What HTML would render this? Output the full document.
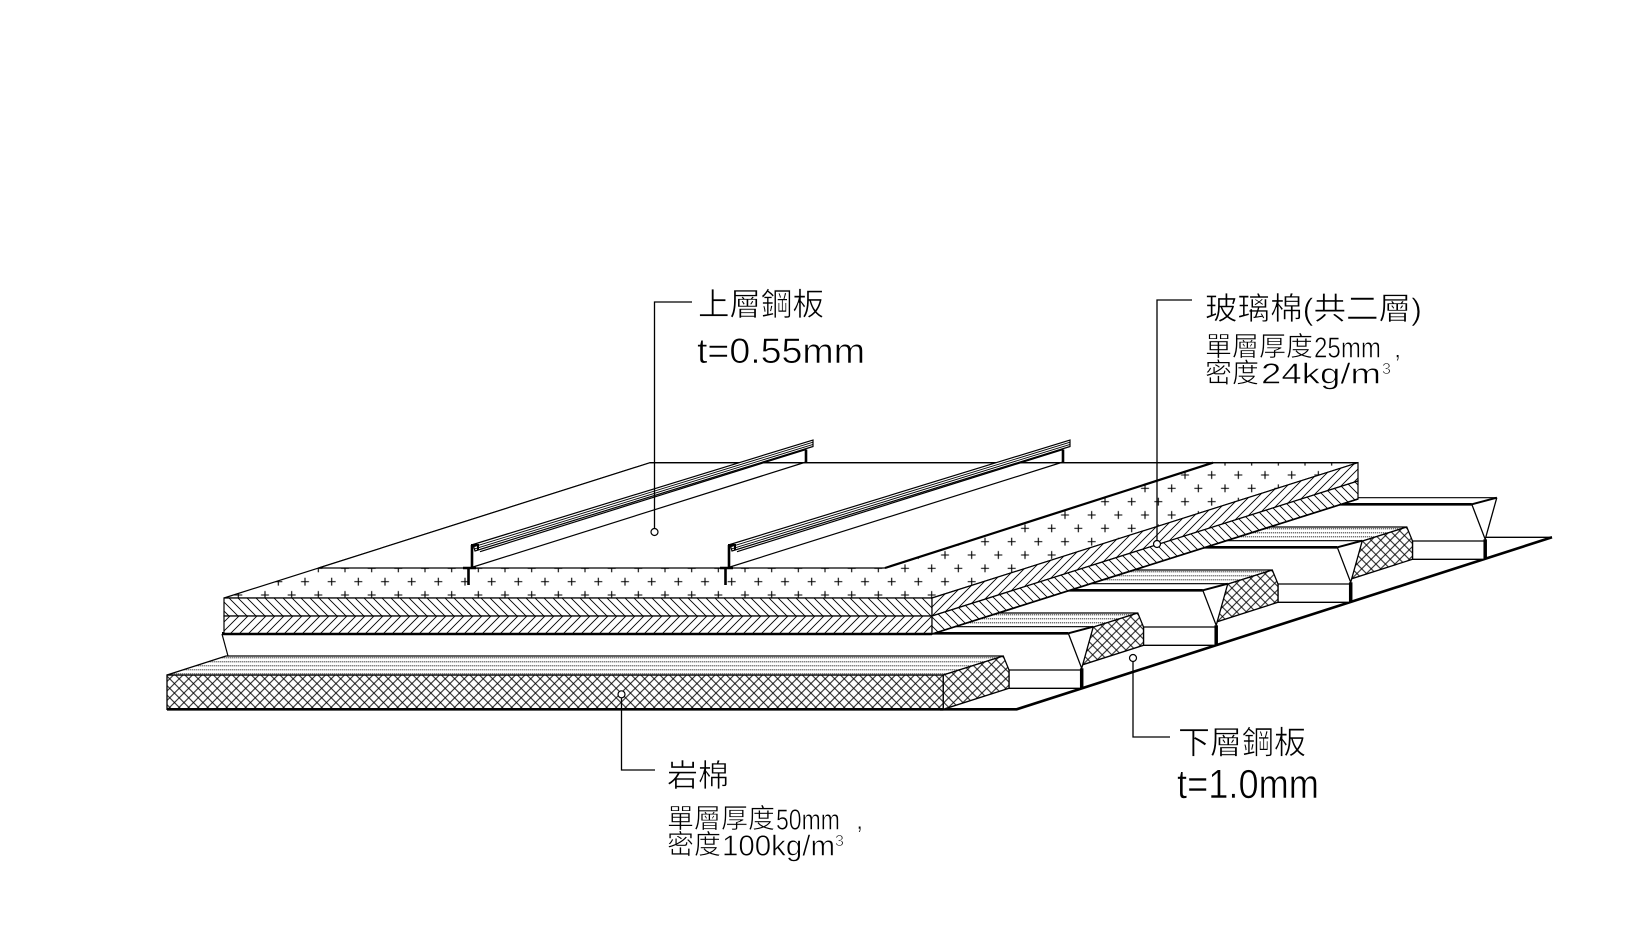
<!DOCTYPE html>
<html>
<head>
<meta charset="utf-8">
<style>
html,body{margin:0;padding:0;background:#fff;}
svg{display:block;}
text{font-family:"Liberation Sans","Noto Sans CJK TC","Noto Sans CJK SC",sans-serif;fill:#000;stroke:#fff;stroke-width:0.6px;paint-order:normal;}
</style>
</head>
<body>
<svg xmlns="http://www.w3.org/2000/svg" width="1626" height="925" viewBox="0 0 1626 925">
<defs>
  <pattern id="plus" patternUnits="userSpaceOnUse" x="218.33" y="575" width="26.667" height="26.667">
    <rect width="26.667" height="26.667" fill="#fff"/>
    <path d="M2.67,6.67h8M6.67,2.67v8M16,20h8M20,16v8" stroke="#000" stroke-width="1.1" fill="none"/>
  </pattern>
  <pattern id="hb" patternUnits="userSpaceOnUse" width="9" height="9">
    <rect width="9" height="9" fill="#fff"/>
    <path d="M-1,-1L10,10M-1,8L1,10M8,-1L10,1" stroke="#000" stroke-width="0.9" fill="none"/>
  </pattern>
  <pattern id="hf" patternUnits="userSpaceOnUse" width="9" height="9">
    <rect width="9" height="9" fill="#fff"/>
    <path d="M-1,10L10,-1M-1,1L1,-1M8,10L10,8" stroke="#000" stroke-width="0.9" fill="none"/>
  </pattern>
  <pattern id="xh" patternUnits="userSpaceOnUse" width="9.5" height="9.5">
    <rect width="9.5" height="9.5" fill="#fff"/>
    <path d="M-1,-1L10.5,10.5M-1,10.5L10.5,-1" stroke="#000" stroke-width="0.9" fill="none"/>
  </pattern>
  <pattern id="dots" patternUnits="userSpaceOnUse" width="2" height="4">
    <rect width="2" height="4" fill="#fff"/>
    <rect x="0" y="1" width="1" height="1" fill="#000"/>
  </pattern>
</defs>

<rect width="1626" height="925" fill="#fff"/>

<g fill="none" stroke="#000" stroke-linejoin="miter">

<!-- base plate (lower steel deck bottom) -->
<path d="M167,709.3 H1016.7 L1552,537.3 H700 Z" fill="#fff" stroke="none"/>
<path d="M940,709.3 H1016.7 L1552,537.3" stroke-width="2.6"/>
<path d="M1480,537.3 H1552" stroke-width="1.3"/>

<!-- unit 3 -->
<g transform="translate(1485.2,559.3)">
  <path d="M-859.7,-61.6 H11.6 L0,-20 V0 H-848.7 L-859.7,-54 Z" fill="#fff" stroke="none"/>
  <path d="M-859.7,-55 H-13.4" stroke-width="2.6"/>
  <path d="M-840,-61.6 H11.6" stroke-width="1.2"/>
  <path d="M-13.4,-55 L11.6,-61.6" stroke-width="2"/>
  <path d="M-13.4,-55 L0,-20 L11.6,-61.6" stroke-width="1.3"/>
  <path d="M0,-20 V0" stroke-width="3.5"/>
  <path d="M-72.7,-18.3 H0 M-72.7,-18.3 V0 H0" stroke-width="1.3"/>
</g>
<g transform="translate(1485.2,559.3)">
  <path d="M-914.7,-13.3 H-138.4 V21 H-914.7 Z" fill="url(#xh)" stroke-width="1.3"/>
  <path d="M-914.7,-13.3 L-855.7,-32.3 H-78.4 L-138.4,-13.3 Z" fill="url(#dots)" stroke-width="1.3"/>
  <path d="M-138.4,-13.3 L-78.4,-32.3 L-72.7,-18.3 V0 L-138.4,21 Z" fill="url(#xh)" stroke-width="1.3"/>
</g>

<!-- unit 2 -->
<g transform="translate(1350.7,602.3)">
  <path d="M-859.7,-61.6 H11.6 L0,-20 V0 H-848.7 L-859.7,-54 Z" fill="#fff" stroke="none"/>
  <path d="M-859.7,-55 H-13.4" stroke-width="2.6"/>
  <path d="M-840,-61.6 H11.6" stroke-width="1.2"/>
  <path d="M-13.4,-55 L11.6,-61.6" stroke-width="2"/>
  <path d="M-13.4,-55 L0,-20 L11.6,-61.6" stroke-width="1.3"/>
  <path d="M0,-20 V0" stroke-width="3.5"/>
  <path d="M-72.7,-18.3 H0 M-72.7,-18.3 V0 H0" stroke-width="1.3"/>
</g>
<g transform="translate(1350.7,602.3)">
  <path d="M-914.7,-13.3 H-138.4 V21 H-914.7 Z" fill="url(#xh)" stroke-width="1.3"/>
  <path d="M-914.7,-13.3 L-855.7,-32.3 H-78.4 L-138.4,-13.3 Z" fill="url(#dots)" stroke-width="1.3"/>
  <path d="M-138.4,-13.3 L-78.4,-32.3 L-72.7,-18.3 V0 L-138.4,21 Z" fill="url(#xh)" stroke-width="1.3"/>
</g>

<!-- unit 1 -->
<g transform="translate(1216.2,645.3)">
  <path d="M-859.7,-61.6 H11.6 L0,-20 V0 H-848.7 L-859.7,-54 Z" fill="#fff" stroke="none"/>
  <path d="M-859.7,-55 H-13.4" stroke-width="2.6"/>
  <path d="M-840,-61.6 H11.6" stroke-width="1.2"/>
  <path d="M-13.4,-55 L11.6,-61.6" stroke-width="2"/>
  <path d="M-13.4,-55 L0,-20 L11.6,-61.6" stroke-width="1.3"/>
  <path d="M0,-20 V0" stroke-width="3.5"/>
  <path d="M-72.7,-18.3 H0 M-72.7,-18.3 V0 H0" stroke-width="1.3"/>
</g>
<g transform="translate(1216.2,645.3)">
  <path d="M-914.7,-13.3 H-138.4 V21 H-914.7 Z" fill="url(#xh)" stroke-width="1.3"/>
  <path d="M-914.7,-13.3 L-855.7,-32.3 H-78.4 L-138.4,-13.3 Z" fill="url(#dots)" stroke-width="1.3"/>
  <path d="M-138.4,-13.3 L-78.4,-32.3 L-72.7,-18.3 V0 L-138.4,21 Z" fill="url(#xh)" stroke-width="1.3"/>
</g>

<!-- unit 0 (front) -->
<g transform="translate(1081.7,688.3)">
  <path d="M-859.7,-61.6 H11.6 L0,-20 V0 H-848.7 L-859.7,-54 Z" fill="#fff" stroke="none"/>
  <path d="M-859.7,-55 H-13.4" stroke-width="2.6"/>
  <path d="M-840,-61.6 H11.6" stroke-width="1.2"/>
  <path d="M-13.4,-55 L11.6,-61.6" stroke-width="2"/>
  <path d="M-13.4,-55 L0,-20 L11.6,-61.6" stroke-width="1.3"/>
  <path d="M0,-20 V0" stroke-width="3.5"/>
  <path d="M-72.7,-18.3 H0 M-72.7,-18.3 V0 H0" stroke-width="1.3"/>
  <path d="M-859.7,-54.3 L-853.7,-32.3" stroke-width="1.2"/>
</g>
<g transform="translate(1081.7,688.3)">
  <path d="M-914.7,-13.3 H-138.4 V21 H-914.7 Z" fill="url(#xh)" stroke-width="1.3"/>
  <path d="M-914.7,21 H-138.4" stroke-width="2.6"/>
  <path d="M-914.7,-13.3 L-855.7,-32.3 H-78.4 L-138.4,-13.3 Z" fill="url(#dots)" stroke-width="1.3"/>
  <path d="M-138.4,-13.3 L-78.4,-32.3 L-72.7,-18.3 V0 L-138.4,21 Z" fill="url(#xh)" stroke-width="1.3"/>
</g>

<!-- glass wool: top surface -->
<path d="M224,598 H932 L1358,462.7 H650 Z" fill="url(#plus)" stroke-width="1.2"/>
<!-- glass wool: front faces -->
<path d="M224,598 H932 V616 H224 Z" fill="url(#hb)" stroke-width="1.2"/>
<path d="M224,616 H932 V634 H224 Z" fill="url(#hf)" stroke-width="1.2"/>
<path d="M222,634 H932" stroke-width="2.6"/>
<!-- glass wool: side faces -->
<path d="M932,598 L1358,462.7 V481 L932,616 Z" fill="url(#hf)" stroke-width="1.2"/>
<path d="M932,616 L1358,481 V499 L932,634 Z" fill="url(#hb)" stroke-width="1.2"/>
<path d="M932,634 L1358,499" stroke-width="1.7"/>

<!-- top steel plate -->
<path d="M318.5,568 H885 L1213,462.7 H650 Z" fill="#fff" stroke-width="1.2"/>
<path d="M885,568 L1213,462.7" stroke-width="2.2"/>
<path d="M650,462.7 H1358" stroke-width="1.3"/>

<!-- seam 1 -->
<g>
  <path d="M473,544.5 L813,440 L813,446.5 L475,551 Z" fill="#fff" stroke-width="1.2"/>
  <path d="M474,546.7 L813,442.2 M474.5,548.9 L813,444.4" stroke-width="0.9"/>
  <path d="M480,551.7 L806,449.5" stroke-width="1.2"/>
  <path d="M473,567 L806,462" stroke-width="1.2"/>
  <path d="M806,449.5 V462.5" stroke-width="2.6"/>
  <path d="M472,545 V568" stroke-width="2.6"/>
  <path d="M471,545 H478 V550" stroke-width="2"/>
  <path d="M463,568 H476 M468.5,568 V585" stroke-width="2.6"/>
</g>
<!-- seam 2 -->
<g transform="translate(257,0)">
  <path d="M473,544.5 L813,440 L813,446.5 L475,551 Z" fill="#fff" stroke-width="1.2"/>
  <path d="M474,546.7 L813,442.2 M474.5,548.9 L813,444.4" stroke-width="0.9"/>
  <path d="M480,551.7 L806,449.5" stroke-width="1.2"/>
  <path d="M473,567 L806,462" stroke-width="1.2"/>
  <path d="M806,449.5 V462.5" stroke-width="2.6"/>
  <path d="M472,545 V568" stroke-width="2.6"/>
  <path d="M471,545 H478 V550" stroke-width="2"/>
  <path d="M463,568 H476 M468.5,568 V585" stroke-width="2.6"/>
</g>

<!-- leaders -->
<path d="M654.5,528.5 V302 H692" stroke-width="1.3"/>
<circle cx="654.5" cy="532" r="3.5" fill="#fff" stroke-width="1.2"/>
<path d="M1157,540.5 V300 H1192" stroke-width="1.3"/>
<circle cx="1157" cy="544" r="3.5" fill="#fff" stroke-width="1.2"/>
<path d="M621.5,697.8 V770 H655" stroke-width="1.3"/>
<circle cx="621.5" cy="694.3" r="3.5" fill="#fff" stroke-width="1.2"/>
<path d="M1133,661.5 V737 H1170" stroke-width="1.3"/>
<circle cx="1133" cy="658" r="3.5" fill="#fff" stroke-width="1.2"/>
</g>

<!-- labels -->
<text x="698" y="315" font-size="31.5" textLength="126" lengthAdjust="spacingAndGlyphs">上層鋼板</text>
<text x="697" y="363" font-size="35" textLength="168" lengthAdjust="spacingAndGlyphs">t=0.55mm</text>

<text x="1205" y="319.5" font-size="31" textLength="217" lengthAdjust="spacingAndGlyphs">玻璃棉(共二層)</text>
<text x="1205" y="356" font-size="27">單層厚度</text>
<text x="1314" y="357.5" font-size="29" textLength="67" lengthAdjust="spacingAndGlyphs">25mm</text>
<text x="1394" y="357.5" font-size="26">,</text>
<text x="1205" y="382.5" font-size="27">密度</text>
<text x="1261" y="383.5" font-size="29" textLength="120" lengthAdjust="spacingAndGlyphs">24kg/m</text>
<text x="1382" y="374" font-size="16">3</text>

<text x="667" y="786.5" font-size="31">岩棉</text>
<text x="667" y="828" font-size="27">單層厚度</text>
<text x="776" y="829.5" font-size="29" textLength="64" lengthAdjust="spacingAndGlyphs">50mm</text>
<text x="856" y="829" font-size="26">,</text>
<text x="667" y="854" font-size="27">密度</text>
<text x="722" y="855.5" font-size="29" textLength="113" lengthAdjust="spacingAndGlyphs">100kg/m</text>
<text x="835" y="846" font-size="16">3</text>

<text x="1178" y="753.5" font-size="32" textLength="128" lengthAdjust="spacingAndGlyphs">下層鋼板</text>
<text x="1177" y="798" font-size="41" textLength="142" lengthAdjust="spacingAndGlyphs">t=1.0mm</text>
</svg>
</body>
</html>
